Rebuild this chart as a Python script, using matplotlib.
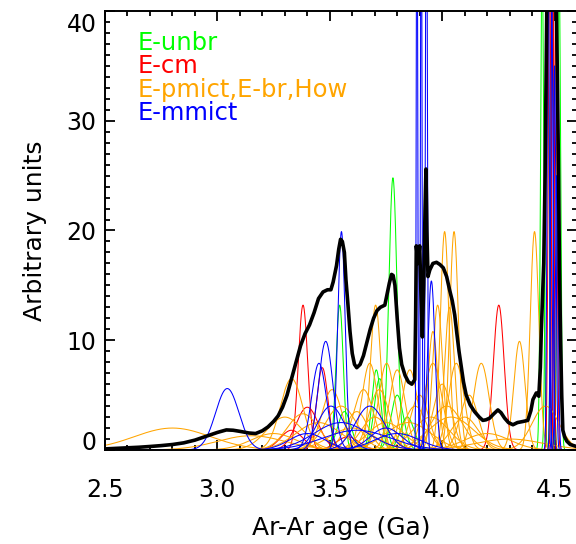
import numpy as np
import matplotlib
matplotlib.use("Agg")
import matplotlib.pyplot as plt
from matplotlib.ticker import MultipleLocator
from matplotlib.transforms import ScaledTranslation

# ---------------- data ----------------
# Gaussian components: centre (Ga), peak height (arbitrary units), sigma (Ga)
GREEN_CENTER = [3.544, 3.565, 3.707, 3.722, 3.781, 3.800, 3.845, 4.445, 4.468, 4.490, 4.520]
GREEN_HEIGHT = [13.2, 3.5, 7.3, 6.5, 24.8, 5.0, 3.0, 45, 50, 48, 45]
GREEN_SIGMA  = [0.016, 0.03, 0.02, 0.024, 0.018, 0.028, 0.03, 0.007, 0.007, 0.006, 0.007]

RED_CENTER = [3.381, 3.400, 3.467, 3.330, 3.580, 4.252, 4.478, 4.492, 4.505]
RED_HEIGHT = [13.2, 3.9, 7.5, 1.8, 1.2, 13.2, 45, 48, 40]
RED_SIGMA  = [0.021, 0.05, 0.025, 0.05, 0.05, 0.024, 0.006, 0.005, 0.006]

ORANGE_CENTER = [2.80, 3.15, 3.25, 3.33, 3.30, 3.38, 3.45, 3.51, 3.55, 3.60,
                 3.65, 3.678, 3.704, 3.72, 3.753, 3.75, 3.80, 3.856, 3.85, 3.90,
                 3.95, 3.959, 3.959, 3.98, 4.011, 4.02, 4.033, 4.053, 4.063, 4.10,
                 4.174, 4.20, 4.30, 4.344, 4.411, 4.46,
                 3.62, 3.70, 3.88, 4.00, 4.04, 4.12]
ORANGE_HEIGHT = [2.0, 1.3, 1.5, 6.5, 3.0, 3.3, 2.5, 5.5, 4.0, 2.0,
                 5.5, 7.9, 13.2, 5.5, 7.9, 2.5, 7.3, 7.3, 2.5, 5.0,
                 3.0, 10.8, 7.9, 13.2, 19.9, 4.0, 13.0, 19.9, 7.9, 3.0,
                 7.9, 1.5, 1.0, 9.9, 19.9, 4.0,
                 3.5, 3.0, 4.0, 6.0, 3.0, 5.0]
ORANGE_SIGMA  = [0.17, 0.15, 0.10, 0.05, 0.08, 0.07, 0.10, 0.045, 0.07, 0.10,
                 0.045, 0.035, 0.023, 0.045, 0.035, 0.08, 0.035, 0.035, 0.10, 0.04,
                 0.08, 0.022, 0.04, 0.022, 0.019, 0.07, 0.022, 0.019, 0.035, 0.06,
                 0.035, 0.10, 0.15, 0.025, 0.019, 0.06,
                 0.05, 0.06, 0.05, 0.04, 0.10, 0.04]

BLUE_CENTER = [3.044, 3.452, 3.482, 3.552, 3.505, 3.678, 3.55, 3.62, 3.40, 3.75,
               3.888, 3.907, 3.930, 3.952, 4.472, 4.488, 4.500, 4.510, 3.80]
BLUE_HEIGHT = [5.6, 7.9, 9.9, 19.9, 4.0, 4.0, 2.5, 1.8, 1.5, 2.0,
               60, 60, 60, 15.4, 45, 42, 35, 25, 1.5]
BLUE_SIGMA  = [0.052, 0.033, 0.032, 0.016, 0.06, 0.065, 0.12, 0.15, 0.08, 0.07,
               0.003, 0.003, 0.004, 0.016, 0.005, 0.005, 0.006, 0.006, 0.10]

# Combined (black) curve, read point by point
BLACK_AGE = [2.500, 2.550, 2.600, 2.650, 2.700, 2.750, 2.800, 2.850, 2.900, 2.950,
             3.000, 3.040, 3.070, 3.100, 3.140, 3.170, 3.200, 3.225, 3.250, 3.270,
             3.290, 3.310, 3.330, 3.350, 3.370, 3.390, 3.410, 3.430, 3.450, 3.470,
             3.490, 3.505, 3.515, 3.530, 3.540, 3.548, 3.556, 3.565, 3.572, 3.580,
             3.590, 3.600, 3.610, 3.620, 3.635, 3.650, 3.665, 3.680, 3.695, 3.710,
             3.725, 3.745, 3.755, 3.765, 3.775, 3.782, 3.790, 3.800, 3.810, 3.820,
             3.835, 3.850, 3.865, 3.878, 3.882, 3.885, 3.893, 3.900, 3.906, 3.912,
             3.918, 3.924, 3.928, 3.932, 3.937, 3.945, 3.959, 3.975, 3.990, 4.005,
             4.020, 4.033, 4.045, 4.056, 4.065, 4.075, 4.085, 4.095, 4.107, 4.125,
             4.144, 4.165, 4.181, 4.195, 4.211, 4.230, 4.248, 4.262, 4.278, 4.295,
             4.315, 4.335, 4.360, 4.381, 4.395, 4.404, 4.419, 4.430, 4.437, 4.441,
             4.452, 4.458, 4.463, 4.468, 4.490, 4.505, 4.512, 4.518, 4.522, 4.527,
             4.532, 4.537, 4.545, 4.555, 4.570, 4.600]
BLACK_VAL = [0.10, 0.15, 0.20, 0.25, 0.32, 0.40, 0.50, 0.65, 0.90, 1.25,
             1.60, 1.83, 1.80, 1.70, 1.55, 1.50, 1.75, 2.10, 2.60, 3.10,
             3.90, 5.00, 6.50, 8.00, 9.50, 10.6, 11.4, 12.5, 13.8, 14.4,
             14.6, 14.6, 15.3, 16.8, 18.3, 19.2, 19.0, 18.0, 15.5, 13.5,
             10.8, 8.8, 7.8, 7.5, 7.8, 8.6, 9.8, 11.0, 12.0, 12.7,
             13.0, 13.2, 14.2, 15.2, 16.0, 15.9, 15.0, 12.0, 9.3, 7.8,
             6.8, 6.2, 6.0, 6.4, 12.0, 18.6, 17.0, 18.6, 14.0, 10.3,
             15.0, 22.0, 25.6, 20.0, 15.8, 16.4, 17.0, 17.1, 16.9, 16.6,
             15.8, 14.6, 13.6, 12.3, 10.7, 9.0, 7.6, 6.2, 5.0, 4.1,
             3.5, 3.0, 2.7, 2.75, 2.9, 3.3, 3.65, 3.4, 2.9, 2.5,
             2.3, 2.5, 2.6, 2.7, 3.6, 4.6, 5.2, 4.9, 7.5, 10.7,
             17.0, 25.0, 35.0, 45.0, 60.0, 45.0, 35.0, 25.0, 16.7, 10.0,
             5.0, 1.8, 1.2, 0.8, 0.5, 0.3]

LEGEND_TEXT = ["E-unbr", "E-cm", "E-pmict,E-br,How", "E-mmict"]
GROUP_COLORS = ["#00ff00", "#ff0000", "#ffa500", "#0000ff"]

X_TICKS = [2.5, 3.0, 3.5, 4.0, 4.5]
Y_TICKS = [0, 10, 20, 30, 40]

# ---------------- figure ----------------
plt.rcParams['font.family'] = ['DejaVu Sans']
fig = plt.figure(figsize=(5.76, 5.44), dpi=100)
ax = fig.add_axes([105 / 576, 94 / 544, 472 / 576, 439 / 544])

age = np.linspace(2.5, 4.6, 6000)

groups = [
    (GREEN_CENTER, GREEN_HEIGHT, GREEN_SIGMA, GROUP_COLORS[0]),
    (RED_CENTER, RED_HEIGHT, RED_SIGMA, GROUP_COLORS[1]),
    (ORANGE_CENTER, ORANGE_HEIGHT, ORANGE_SIGMA, GROUP_COLORS[2]),
    (BLUE_CENTER, BLUE_HEIGHT, BLUE_SIGMA, GROUP_COLORS[3]),
]
for centers, heights, sigmas, col in groups:
    for c, h, s in zip(centers, heights, sigmas):
        ax.plot(age, h * np.exp(-0.5 * ((age - c) / s) ** 2), color=col, lw=0.75)

ax.plot(BLACK_AGE, BLACK_VAL, color="black", lw=2.6,
        solid_joinstyle="round", solid_capstyle="round")

ax.set_xlim(2.5, 4.6)
ax.set_ylim(0, 40)
ax.set_xticks(X_TICKS)
ax.set_xticklabels([f"{v:.1f}" for v in X_TICKS])
ax.set_yticks(Y_TICKS)
ax.set_yticklabels([str(v) for v in Y_TICKS])
ax.xaxis.set_minor_locator(MultipleLocator(0.1))
ax.yaxis.set_minor_locator(MultipleLocator(1))
ax.tick_params(which="both", direction="in", top=True, right=True, width=1.3)
ax.tick_params(which="major", length=7)
ax.tick_params(which="minor", length=3.5)
ax.tick_params(axis="x", which="major", labelsize=17, pad=20)
ax.tick_params(axis="y", which="major", labelsize=17, pad=6)
for sp in ax.spines.values():
    sp.set_linewidth(1.4)

# IDL keeps the end labels inside the axis range
ylabels = ax.get_yticklabels()
ylabels[0].set_transform(ylabels[0].get_transform() + ScaledTranslation(0, 10 / 100, fig.dpi_scale_trans))
ylabels[-1].set_transform(ylabels[-1].get_transform() + ScaledTranslation(0, -12 / 100, fig.dpi_scale_trans))

ax.set_xlabel("Ar-Ar age (Ga)", fontsize=18, labelpad=10)
ax.set_ylabel("Arbitrary units", fontsize=18, labelpad=14)

for i, (txt, col) in enumerate(zip(LEGEND_TEXT, GROUP_COLORS)):
    fig.text(138 / 576, 1 - (50 + 23.3 * i) / 544, txt, color=col, fontsize=17.5,
             ha="left", va="baseline")

fig.savefig("out.png", dpi=100)
